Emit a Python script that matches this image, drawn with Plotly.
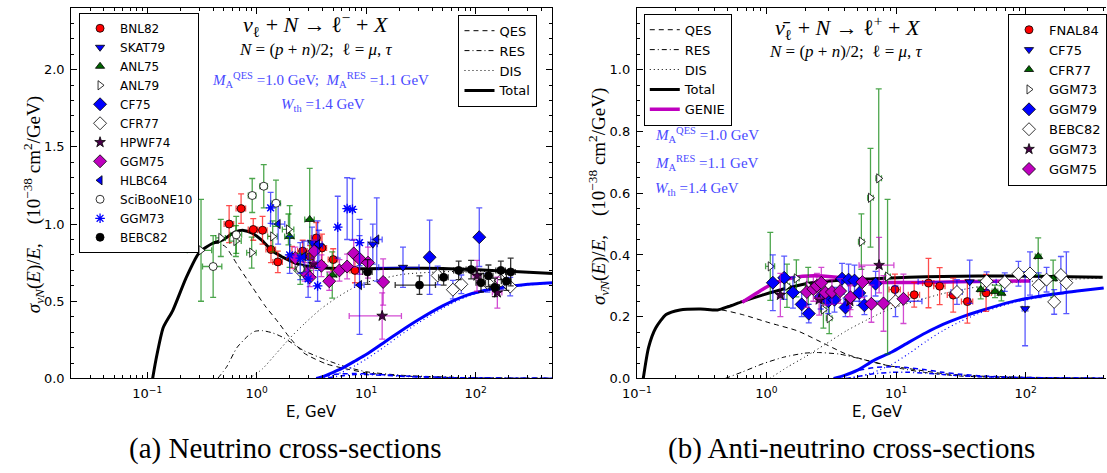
import plotly.graph_objects as go

# ---------------- theory curves: neutrino (left) ----------------
totL_E = [0.112, 0.12, 0.14, 0.171, 0.226, 0.298, 0.393, 0.483, 0.638, 0.76, 0.90, 1.11, 1.36, 1.8, 2.54, 3.59, 5.4, 10.1, 21.8, 50, 96, 202, 520]
totL_v = [0.0, 0.12, 0.33, 0.44, 0.65, 0.815, 0.874, 0.896, 0.949, 0.959, 0.942, 0.896, 0.832, 0.779, 0.735, 0.718, 0.712, 0.71, 0.714, 0.713, 0.706, 0.694, 0.68]
qesL_E = [0.112, 0.12, 0.14, 0.171, 0.226, 0.298, 0.393, 0.45, 0.52, 0.68, 0.90, 1.19, 1.57, 2.0, 2.7, 4.3, 6.6, 10.4, 22, 50, 96, 200, 520]
qesL_v = [0.0, 0.12, 0.33, 0.44, 0.65, 0.815, 0.872, 0.875, 0.853, 0.726, 0.598, 0.471, 0.365, 0.265, 0.165, 0.095, 0.062, 0.035, 0.016, 0.008, 0.004, 0.002, 0.001]
resL_E = [0.44, 0.53, 0.66, 0.83, 0.96, 1.12, 1.4, 1.75, 2.7, 4.3, 6.6, 10.4, 22, 50, 96, 200, 520]
resL_v = [0.0, 0.074, 0.2, 0.275, 0.305, 0.31, 0.295, 0.265, 0.18, 0.12, 0.074, 0.042, 0.02, 0.01, 0.005, 0.003, 0.001]
disL_E = [0.85, 1.12, 1.5, 2.0, 2.72, 3.85, 5.4, 7.2, 10.4, 22, 46, 96, 200, 520]
disL_v = [0.0, 0.06, 0.16, 0.26, 0.354, 0.45, 0.524, 0.577, 0.625, 0.675, 0.69, 0.695, 0.69, 0.678]
tauL_E = [3.5, 4, 5, 6, 8, 10, 15, 20, 30, 50, 80, 120, 200, 300, 520]
tauTotL_v = [0.0, 0.012, 0.04, 0.065, 0.115, 0.155, 0.24, 0.30, 0.38, 0.47, 0.535, 0.57, 0.595, 0.61, 0.62]
tauDisL_v = [0.0, 0.0, 0.02, 0.04, 0.085, 0.125, 0.21, 0.275, 0.36, 0.455, 0.525, 0.565, 0.59, 0.605, 0.617]
tauQesL_v = [0.0, 0.012, 0.025, 0.03, 0.032, 0.03, 0.024, 0.018, 0.012, 0.007, 0.004, 0.003, 0.002, 0.0015, 0.001]
tauResL_v = [0.0, 0.0, 0.01, 0.018, 0.025, 0.025, 0.02, 0.015, 0.01, 0.006, 0.004, 0.003, 0.002, 0.0015, 0.001]

# ---------------- theory curves: antineutrino (right) ----------------
totR_E = [0.112, 0.123, 0.14, 0.168, 0.215, 0.31, 0.42, 0.51, 0.65, 0.93, 1.45, 2.23, 3.65, 6.7, 12.5, 23, 43, 79, 393]
totR_v = [0.0, 0.10, 0.164, 0.207, 0.222, 0.225, 0.222, 0.233, 0.249, 0.27, 0.293, 0.31, 0.318, 0.323, 0.328, 0.33, 0.332, 0.332, 0.328]
qesR_E = [0.112, 0.123, 0.14, 0.168, 0.215, 0.31, 0.45, 0.65, 1.06, 1.74, 2.85, 4.12, 5.97, 8.6, 12.5, 23, 43, 147, 400]
qesR_v = [0.0, 0.10, 0.164, 0.207, 0.222, 0.225, 0.222, 0.207, 0.18, 0.154, 0.111, 0.079, 0.058, 0.042, 0.032, 0.016, 0.008, 0.003, 0.001]
resR_E = [0.48, 0.65, 0.94, 1.36, 1.97, 2.52, 3.65, 5.27, 7.6, 11.0, 17, 31, 79, 400]
resR_v = [0.0, 0.021, 0.048, 0.069, 0.082, 0.084, 0.079, 0.064, 0.048, 0.032, 0.019, 0.008, 0.003, 0.001]
disR_E = [1.06, 1.45, 1.97, 2.85, 4.12, 5.97, 8.6, 12.5, 23, 43, 79, 147, 393]
disR_v = [0.0, 0.037, 0.069, 0.111, 0.154, 0.19, 0.222, 0.244, 0.275, 0.297, 0.31, 0.318, 0.325]
tauR_E = [3.3, 4, 5, 6.7, 9.2, 12.5, 17, 23, 31.5, 43, 79, 147, 250, 400]
tauTotR_v = [0.0, 0.01, 0.026, 0.058, 0.085, 0.117, 0.148, 0.175, 0.198, 0.217, 0.249, 0.27, 0.283, 0.293]
tauDisR_v = [0.0, 0.0, 0.005, 0.02, 0.045, 0.08, 0.12, 0.155, 0.185, 0.21, 0.245, 0.268, 0.282, 0.292]
tauQesR_v = [0.0, 0.01, 0.025, 0.035, 0.038, 0.035, 0.028, 0.02, 0.014, 0.009, 0.004, 0.002, 0.0015, 0.001]
tauResR_v = [0.0, 0.0, 0.006, 0.015, 0.02, 0.02, 0.017, 0.013, 0.009, 0.006, 0.003, 0.002, 0.0015, 0.001]
genie_E = [0.65, 0.83, 1.06, 1.45, 1.9, 2.7, 3.8, 5.5, 8, 15, 30, 60, 108]
genie_v = [0.247, 0.275, 0.302, 0.322, 0.331, 0.332, 0.326, 0.314, 0.311, 0.311, 0.313, 0.315, 0.316]

# ---------------- experimental data: neutrino ----------------
bnl82_E = [0.56, 0.72, 0.93, 1.13, 1.35, 1.56, 2.1, 2.63, 3.08, 3.5, 3.95, 5.0, 7.9]
bnl82_v = [1.0, 1.10, 0.965, 0.96, 0.835, 0.755, 0.785, 0.825, 0.79, 0.91, 0.845, 0.77, 0.70]
bnl82_e = [0.12, 0.095, 0.07, 0.09, 0.085, 0.07, 0.07, 0.07, 0.07, 0.1, 0.09, 0.07, 0.08]
bnl82_x = [0.1] * 13
skat79_E = [3.2, 3.7, 11.5, 21.7]
skat79_v = [0.88, 0.86, 0.87, 0.72]
skat79_e = [0.1, 0.1, 0.13, 0.13]
skat79_x = [0.08, 0.08, 0.1, 0.4]
anl75_E = [2.0, 3.05, 4.9]
anl75_v = [0.92, 1.03, 0.67]
anl75_e = [0.2, 0.33, 0.15]
anl75_x = [0.1, 0.1, 0.1]
anl79_E = [0.31, 0.47, 0.645, 0.90, 1.4, 1.95]
anl79_v = [0.83, 0.91, 0.89, 0.815, 0.92, 0.965]
anl79_e = [0.33, 0.12, 0.1, 0.1, 0.1, 0.1]
anl79_x = [0.25, 0.1, 0.12, 0.1, 0.1, 0.12]
cf75L_E = [38, 108]
cf75L_v = [0.785, 0.915]
cf75L_e = [0.24, 0.19]
cf75L_x = [0.05, 0.05]
cfr77L_E = [2.5, 45, 62, 74, 128, 170, 207]
cfr77L_v = [0.70, 0.667, 0.575, 0.61, 0.62, 0.635, 0.595]
cfr77L_e = [0.06, 0.06, 0.06, 0.06, 0.06, 0.06, 0.06]
cfr77L_x = [0.05] * 7
hpwf74_E = [3.3, 14, 103, 158]
hpwf74_v = [0.74, 0.405, 0.665, 0.556]
hpwf74_e = [0.08, 0.15, 0.1, 0.1]
hpwf74_x = [0.05, 0.5, 0.08, 0.1]
ggm75L_E = [2.25, 2.75, 3.05, 3.35, 3.9, 4.6, 5.7, 6.7, 7.7, 8.7, 10.4, 14.3]
ggm75L_v = [0.78, 0.69, 0.655, 0.825, 0.73, 0.63, 0.70, 0.725, 0.81, 0.775, 0.75, 0.625]
ggm75L_e = [0.07, 0.06, 0.06, 0.07, 0.07, 0.06, 0.07, 0.08, 0.09, 0.1, 0.1, 0.15]
ggm75L_x = [0.05] * 12
hlbc64_E = [1.57, 2.7, 3.6, 8.7, 12.5]
hlbc64_v = [1.0, 0.79, 0.87, 0.605, 0.90]
hlbc64_e = [0.13, 0.1, 0.15, 0.32, 0.27]
hlbc64_x = [0.15, 0.1, 0.1, 0.1, 0.12]
sciboone_E = [0.40, 0.65, 0.91, 1.16, 1.5, 2.5]
sciboone_v = [0.725, 0.93, 1.185, 1.245, 1.135, 0.71]
sciboone_e = [0.2, 0.12, 0.11, 0.14, 0.15, 0.1]
sciboone_x = [0.2, 0.12, 0.08, 0.08, 0.1, 0.1]
ggm73L_E = [1.34, 2.0, 2.5, 2.95, 3.6, 5.5, 6.7, 7.5, 8.7]
ggm73L_v = [1.105, 0.80, 0.78, 0.645, 0.60, 0.98, 1.10, 1.095, 0.88]
ggm73L_e = [0.1, 0.12, 0.1, 0.12, 0.1, 0.2, 0.2, 0.2, 0.15]
ggm73L_x = [0.04] * 9
bebc82L_E = [10.3, 30.7, 51, 70, 91, 112, 131, 150, 170, 191, 209]
bebc82L_v = [0.69, 0.605, 0.655, 0.70, 0.705, 0.62, 0.665, 0.59, 0.70, 0.63, 0.69]
bebc82L_e = [0.08, 0.06, 0.05, 0.06, 0.06, 0.06, 0.07, 0.06, 0.06, 0.06, 0.09]
bebc82L_x = [0.1, 0.4, 0.1, 0.1, 0.1, 0.1, 0.1, 0.1, 0.1, 0.1, 0.1]

# ---------------- experimental data: antineutrino ----------------
fnal84_E = [9.8, 13.8, 17.8, 21.7, 27.6, 35.5, 49.5]
fnal84_v = [0.288, 0.271, 0.309, 0.299, 0.270, 0.249, 0.277]
fnal84_e = [0.05, 0.04, 0.08, 0.06, 0.055, 0.07, 0.06]
fnal84_x = [0.1] * 7
cf75R_E = [37, 99]
cf75R_v = [0.313, 0.226]
cf75R_e = [0.07, 0.12]
cf75R_x = [0.6, 0.05]
cfr77R_E = [45, 58, 65, 125, 163]
cfr77R_v = [0.288, 0.282, 0.276, 0.395, 0.323]
cfr77R_e = [0.03, 0.02, 0.025, 0.06, 0.06]
cfr77R_x = [0.05] * 5
ggm73gR_E = [1.07, 1.44, 1.7, 2.1, 2.75, 3.05, 5.4, 6.35, 7.35, 8.6]
ggm73gR_v = [0.363, 0.30, 0.324, 0.30, 0.223, 0.195, 0.443, 0.585, 0.648, 0.33]
ggm73gR_e = [0.11, 0.07, 0.06, 0.06, 0.06, 0.05, 0.09, 0.16, 0.29, 0.25]
ggm73gR_x = [0.08, 0.05, 0.05, 0.05, 0.05, 0.05, 0.05, 0.05, 0.05, 0.05]
ggm79_E = [1.12, 1.37, 1.6, 1.87, 2.12, 2.62, 3.0, 3.35, 3.83, 4.07, 4.3, 4.78, 5.2, 5.7, 6.95]
ggm79_v = [0.31, 0.326, 0.278, 0.24, 0.21, 0.265, 0.25, 0.255, 0.323, 0.23, 0.32, 0.317, 0.277, 0.237, 0.307]
ggm79_e = [0.09, 0.07, 0.05, 0.04, 0.03, 0.04, 0.04, 0.04, 0.05, 0.03, 0.05, 0.05, 0.04, 0.03, 0.04]
ggm79_x = [0.04] * 15
bebc82R_E = [9.9, 29.5, 50, 69, 88, 108, 126, 145, 166, 187, 206]
bebc82R_v = [0.25, 0.28, 0.315, 0.312, 0.339, 0.34, 0.302, 0.32, 0.248, 0.335, 0.31]
bebc82R_e = [0.05, 0.04, 0.03, 0.03, 0.04, 0.07, 0.04, 0.04, 0.04, 0.06, 0.1]
bebc82R_x = [0.6, 0.1, 0.05, 0.05, 0.05, 0.05, 0.05, 0.05, 0.05, 0.05, 0.05]
ggm73mR_E = [1.28, 2.55, 4.4, 7.4]
ggm73mR_v = [0.27, 0.255, 0.25, 0.367]
ggm73mR_e = [0.07, 0.05, 0.05, 0.09]
ggm73mR_x = [0.05, 0.05, 0.05, 0.3]
ggm75R_E = [2.05, 2.3, 2.45, 2.65, 2.85, 3.2, 3.7, 4.45, 5.5, 6.45, 8.0, 11.4]
ggm75R_v = [0.28, 0.29, 0.30, 0.31, 0.278, 0.28, 0.283, 0.263, 0.312, 0.242, 0.243, 0.258]
ggm75R_e = [0.05, 0.04, 0.04, 0.05, 0.04, 0.04, 0.04, 0.04, 0.05, 0.06, 0.09, 0.08]
ggm75R_x = [0.05] * 12

xticks_vals = [0.1, 1, 10, 100]
xticks_text = ["10<sup>−1</sup>", "10<sup>0</sup>", "10<sup>1</sup>", "10<sup>2</sup>"]

fig = go.Figure()

QES_DASH = "5px,4px"
RES_DASH = "5px,3px,1px,3px"
DIS_DASH = "1px,3px"


def curve(E, v, color, width, dash, xa, ya, name=None, legend=None, show=False):
    fig.add_trace(go.Scatter(
        x=E, y=v, mode="lines", name=name, showlegend=show,
        legend=legend if legend else "legend",
        line=dict(color=color, width=width, dash=dash, shape="spline", smoothing=0.6),
        xaxis=xa, yaxis=ya, hoverinfo="skip"))


RED, BLUE, GREEN, MAG, BLK = "#ff0000", "#0000ff", "#006400", "#bf00bf", "#000000"
BAR = {
    "r": "rgba(255,0,0,0.7)", "b": "rgba(0,0,255,0.65)", "g": "rgba(0,128,0,0.7)",
    "m": "rgba(191,0,191,0.7)", "k": "rgba(0,0,0,0.8)",
}


def data(E, v, e, xr, name, symbol, fill, bar, xa, ya, legend, size=8, edge="black", lw=0.8):
    fig.add_trace(go.Scatter(
        x=E, y=v, mode="markers", name=name, legend=legend, xaxis=xa, yaxis=ya,
        marker=dict(symbol=symbol, color=fill, size=size, line=dict(color=edge, width=lw)),
        error_y=dict(type="data", array=e, color=BAR[bar], thickness=1.3, width=3),
        error_x=dict(type="data", array=[a * r for a, r in zip(E, xr)], color=BAR[bar], thickness=1.3, width=3),
        hoverinfo="skip"))


# ----- left curves -----
curve(qesL_E, qesL_v, "black", 1, QES_DASH, "x", "y", "QES", "legend2", True)
curve(resL_E, resL_v, "black", 1, RES_DASH, "x", "y", "RES", "legend2", True)
curve(disL_E, disL_v, "black", 1, DIS_DASH, "x", "y", "DIS", "legend2", True)
curve(totL_E, totL_v, "black", 3, "solid", "x", "y", "Total", "legend2", True)
curve(tauL_E, tauQesL_v, BLUE, 1.5, QES_DASH, "x", "y")
curve(tauL_E, tauResL_v, BLUE, 1.5, RES_DASH, "x", "y")
curve(tauL_E, tauDisL_v, BLUE, 1.2, DIS_DASH, "x", "y")
curve(tauL_E, tauTotL_v, BLUE, 3, "solid", "x", "y")

# ----- right curves -----
curve(qesR_E, qesR_v, "black", 1, QES_DASH, "x2", "y2", "QES", "legend3", True)
curve(resR_E, resR_v, "black", 1, RES_DASH, "x2", "y2", "RES", "legend3", True)
curve(disR_E, disR_v, "black", 1, DIS_DASH, "x2", "y2", "DIS", "legend3", True)
curve(totR_E, totR_v, "black", 3, "solid", "x2", "y2", "Total", "legend3", True)
curve(genie_E, genie_v, "#bf00bf", 3.5, "solid", "x2", "y2", "GENIE", "legend3", True)
curve(tauR_E, tauQesR_v, BLUE, 1.5, QES_DASH, "x2", "y2")
curve(tauR_E, tauResR_v, BLUE, 1.5, RES_DASH, "x2", "y2")
curve(tauR_E, tauDisR_v, BLUE, 1.2, DIS_DASH, "x2", "y2")
curve(tauR_E, tauTotR_v, BLUE, 3, "solid", "x2", "y2")

# ----- left data -----
L = ("x", "y", "legend")
data(bnl82_E, bnl82_v, bnl82_e, bnl82_x, "BNL82", "circle", RED, "r", *L)
data(skat79_E, skat79_v, skat79_e, skat79_x, "SKAT79", "triangle-down", BLUE, "b", *L)
data(anl75_E, anl75_v, anl75_e, anl75_x, "ANL75", "triangle-up", GREEN, "g", *L)
data(anl79_E, anl79_v, anl79_e, anl79_x, "ANL79", "triangle-right", "white", "g", *L)
data(cf75L_E, cf75L_v, cf75L_e, cf75L_x, "CF75", "diamond", BLUE, "b", *L, size=10)
data(cfr77L_E, cfr77L_v, cfr77L_e, cfr77L_x, "CFR77", "diamond", "white", "b", *L, size=10)
data(hpwf74_E, hpwf74_v, hpwf74_e, hpwf74_x, "HPWF74", "star", "#4a004a", "m", *L, size=8)
data(ggm75L_E, ggm75L_v, ggm75L_e, ggm75L_x, "GGM75", "diamond", MAG, "m", *L, size=10)
data(hlbc64_E, hlbc64_v, hlbc64_e, hlbc64_x, "HLBC64", "triangle-left", BLUE, "b", *L)
data(sciboone_E, sciboone_v, sciboone_e, sciboone_x, "SciBooNE10", "circle", "white", "g", *L)
data(ggm73L_E, ggm73L_v, ggm73L_e, ggm73L_x, "GGM73", "asterisk-open", BLUE, "b", *L, edge=BLUE, lw=1.3)
data(bebc82L_E, bebc82L_v, bebc82L_e, bebc82L_x, "BEBC82", "circle", BLK, "k", *L)

# ----- right data -----
R = ("x2", "y2", "legend4")
data(fnal84_E, fnal84_v, fnal84_e, fnal84_x, "FNAL84", "circle", RED, "r", *R)
data(cf75R_E, cf75R_v, cf75R_e, cf75R_x, "CF75", "triangle-down", BLUE, "b", *R)
data(cfr77R_E, cfr77R_v, cfr77R_e, cfr77R_x, "CFR77", "triangle-up", GREEN, "g", *R)
data(ggm73gR_E, ggm73gR_v, ggm73gR_e, ggm73gR_x, "GGM73", "triangle-right", "white", "g", *R)
data(ggm79_E, ggm79_v, ggm79_e, ggm79_x, "GGM79", "diamond", BLUE, "b", *R, size=10)
data(bebc82R_E, bebc82R_v, bebc82R_e, bebc82R_x, "BEBC82", "diamond", "white", "b", *R, size=10)
data(ggm73mR_E, ggm73mR_v, ggm73mR_e, ggm73mR_x, "GGM73", "star", "#4a004a", "m", *R, size=8)
data(ggm75R_E, ggm75R_v, ggm75R_e, ggm75R_x, "GGM75", "diamond", MAG, "m", *R, size=10)

W, H = 1107, 473
TICKF = dict(family="DejaVu Sans", size=13, color="black")


def px(x):
    return x / W


def py(y):
    return 1 - y / H


def xaxis(domain, rng, anchor):
    return dict(type="log", domain=domain, range=rng, anchor=anchor,
                tickvals=xticks_vals, ticktext=xticks_text, ticks="inside", ticklen=6,
                tickcolor="black", showline=True, linecolor="black", linewidth=1,
                mirror="allticks", showgrid=False, zeroline=False, tickfont=TICKF,
                ticklabelstandoff=3,
                minor=dict(ticks="inside", ticklen=3, dtick="D1", tickcolor="black", showgrid=False))


def yaxis(domain, rng, vals, mdt, anchor, mirror):
    return dict(domain=domain, range=rng, anchor=anchor, tickvals=vals,
                ticktext=["%.1f" % v for v in vals], ticks="inside", ticklen=6,
                tickcolor="black", showline=True, linecolor="black", linewidth=1,
                mirror=mirror, showgrid=False, zeroline=False, tickfont=TICKF,
                ticklabelstandoff=3,
                minor=dict(ticks="inside", ticklen=3, dtick=mdt, tickcolor="black", showgrid=False))


ydom = [py(385), py(8)]
layout = dict(
    width=W, height=H, margin=dict(l=0, r=0, t=0, b=0),
    paper_bgcolor="white", plot_bgcolor="white", showlegend=True,
    xaxis=xaxis([px(57), px(545)], [-1.695, 2.699], "y"),
    yaxis=yaxis(ydom, [0, 2.4], [0, 0.5, 1.0, 1.5, 2.0], 0.1, "x", "allticks"),
    xaxis2=xaxis([px(631), 1.0], [-1.0, 2.62], "y2"),
    yaxis2=yaxis(ydom, [0, 1.2], [0, 0.2, 0.4, 0.6, 0.8, 1.0], 0.05, "x2", False),
)
LEG = dict(xanchor="left", yanchor="top", bgcolor="white", bordercolor="black", borderwidth=1,
           font=dict(family="DejaVu Sans", size=13, color="black"), tracegroupgap=0)
layout["legend"] = dict(LEG, x=px(65), y=py(13), font=dict(family="DejaVu Sans", size=12, color="black"))
layout["legend2"] = dict(LEG, x=px(450), y=py(15))
layout["legend3"] = dict(LEG, x=px(638), y=py(14))
layout["legend4"] = dict(LEG, x=px(1008), y=py(14))
fig.update_layout(**layout)

SERIF = "Liberation Serif"
MB = "#4a4aff"


def ann(text, x, y, size, color="black", family=SERIF, angle=0, xanchor="center"):
    fig.add_annotation(text=text, x=px(x), y=py(y), xref="paper", yref="paper", showarrow=False,
                       xanchor=xanchor, yanchor="middle", textangle=angle,
                       font=dict(family=family, size=size, color=color))


ann("<i>ν</i><sub>ℓ</sub> + <i>N</i> → ℓ<sup>−</sup> + <i>X</i>", 305, 25, 22)
ann("<i>N</i> = (<i>p</i> + <i>n</i>)/2;  ℓ = <i>μ</i>, <i>τ</i>", 305, 50, 17)
ann("<i>M</i><sub>A</sub><sup>QES</sup> =1.0 GeV;  <i>M</i><sub>A</sub><sup>RES</sup> =1.1 GeV", 310, 81, 15, MB)
ann("<i>W</i><sub>th</sub> =1.4 GeV", 313, 107, 15, MB)

ann("<i>ν̄</i><sub>ℓ</sub> + <i>N</i> → ℓ<sup>+</sup> + <i>X</i>", 845, 28, 22)
ann("<i>N</i> = (<i>p</i> + <i>n</i>)/2;  ℓ = <i>μ</i>, <i>τ</i>", 843, 52, 17)
ann("<i>M</i><sub>A</sub><sup>QES</sup> =1.0 GeV", 647, 137, 15, MB, xanchor="left")
ann("<i>M</i><sub>A</sub><sup>RES</sup> =1.1 GeV", 647, 166, 15, MB, xanchor="left")
ann("<i>W</i><sub>th</sub> =1.4 GeV", 647, 192, 15, MB, xanchor="left")

ann("<i>σ</i><sub><i>νN</i></sub>(<i>E</i>)/<i>E</i>,    (10<sup>−38</sup> cm<sup>2</sup>/GeV)", 19, 208, 19, angle=-90)
ann("<i>σ</i><sub><i>ν̄N</i></sub>(<i>E</i>)/<i>E</i>,    (10<sup>−38</sup> cm<sup>2</sup>/GeV)", 592, 200, 19, angle=-90)
ann("E, GeV", 301, 419, 15, family="DejaVu Sans")
ann("E, GeV", 875, 419, 15, family="DejaVu Sans")
ann("(a) Neutrino cross-sections", 274, 456, 29)
ann("(b) Anti-neutrino cross-sections", 849, 456, 29)

fig.write_html("out.html")
